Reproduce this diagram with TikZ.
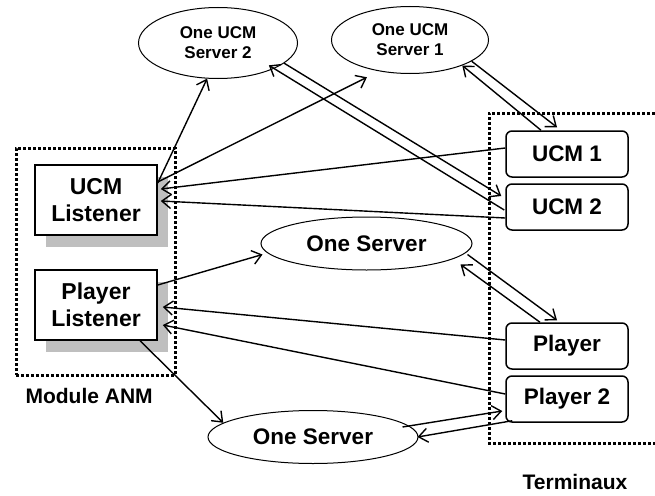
\documentclass[tikz,border=0pt]{standalone}
\usepackage{fontspec}
\setmainfont{Liberation Sans}
\usetikzlibrary{arrows.meta,shapes.geometric,shadows}

\begin{document}
\begin{tikzpicture}[x=1pt,y=-1pt,node distance=53pt,
  server/.style={ellipse,draw,line width=1pt,inner sep=0pt,align=center},
  listener/.style={rectangle,draw,fill=white,line width=1.5pt,minimum width=122pt,minimum height=70pt,align=center,
    font=\fontsize{23}{27}\selectfont\bfseries,
    drop shadow={shadow xshift=11pt,shadow yshift=-12pt,fill=black!25,opacity=1}},
  terminal/.style={rectangle,rounded corners=6pt,draw,line width=1.5pt,minimum width=122pt,minimum height=46pt,
    font=\fontsize{22.5}{27}\selectfont\bfseries},
  group/.style={line width=3pt,dash pattern=on 3pt off 2pt},
  link/.style={line width=1.4pt,-{Straight Barb[length=9pt,width=14pt]}}]
\useasboundingbox (0,0) rectangle (655,495);

% module ANM
\node[draw,group,minimum width=159pt,minimum height=227pt,inner sep=0pt] (anm) at (95.5,261.5) {};
\node[anchor=west,font=\fontsize{21}{25}\selectfont\bfseries] (anmlabel) at (22,396) {Module ANM};
\node[listener] (ucml) at (96,200) {UCM\\Listener};
\node[listener] (playl) at (96,305) {Player\\Listener};

% serveurs
\node[server,minimum width=159pt,minimum height=71pt,font=\fontsize{17}{20}\selectfont\bfseries] (srv2) at (218,43) {One UCM\\Server 2};
\node[server,minimum width=157pt,minimum height=67pt,font=\fontsize{17}{20}\selectfont\bfseries] (srv1) at (410,40) {One UCM\\Server 1};
\node[server,minimum width=211pt,minimum height=53pt,font=\fontsize{22.5}{27}\selectfont\bfseries] (onesrv) at (366.5,243.5) {One Server};
\node[server,minimum width=210pt,minimum height=53pt,font=\fontsize{22.5}{27}\selectfont\bfseries] (onesrv2) at (313,437) {One Server};

% terminaux
\draw[group] (655,113) -| (489,443) -- (655,443);
\node[font=\fontsize{21}{25}\selectfont\bfseries] (termlabel) at (575,482) {Terminaux};
\node[terminal] (ucm1) at (567,154) {UCM 1};
\node[terminal] (ucm2) [below of=ucm1] {UCM 2};
\node[terminal] (player) at (567,346) {Player};
\node[terminal] (player2) [below of=player] {Player 2};

% liens
\draw[link] ([yshift=17pt]ucml.east) -- (srv2.253);
\draw[link] ([yshift=18pt]ucml.east) -- ([xshift=-7pt,yshift=-7pt]srv1.220);
\draw[link] ([yshift=6pt]ucm1.west) -- ([xshift=3pt,yshift=11pt]ucml.east);
\draw[link] ([yshift=-11pt]ucm2.west) -- ([xshift=3pt,yshift=-1pt]ucml.east);
\draw[link] (srv2.-17) -- ([xshift=-4pt,yshift=11pt]ucm2.west);
\draw[link] ([xshift=-1pt,yshift=-3pt]ucm2.west) -- ([xshift=-6pt,yshift=3pt]srv2.-24);
\draw[link] (srv1.-19) -- ([xshift=-10pt,yshift=3pt]ucm1.north);
\draw[link] ([xshift=-26pt]ucm1.north) -- (srv1.-26);
\draw[link] ([xshift=-5pt,yshift=-11pt]onesrv.east) -- ([xshift=-10pt,yshift=2pt]player.north);
\draw[link] ([xshift=-27pt]player.north) -- ([xshift=-12pt,yshift=-21pt]onesrv.east);
\draw[link] ([xshift=-16pt,yshift=10pt]onesrv2.east) -- ([xshift=-3pt,yshift=-12pt]player2.west);
\draw[link] ([xshift=7pt,yshift=2pt]player2.south west) -- ([xshift=-1pt]onesrv2.east);
\draw[link] ([yshift=20pt]playl.east) -- ([xshift=2pt,yshift=-11pt]onesrv.west);
\draw[link] ([yshift=6pt]player.west) -- ([xshift=5pt,yshift=-2pt]playl.east);
\draw[link] ([yshift=5pt]player2.west) -- ([xshift=5pt,yshift=-20pt]playl.east);
\draw[link] ([xshift=44pt]playl.south) -- (onesrv2.171);
\end{tikzpicture}
\end{document}
